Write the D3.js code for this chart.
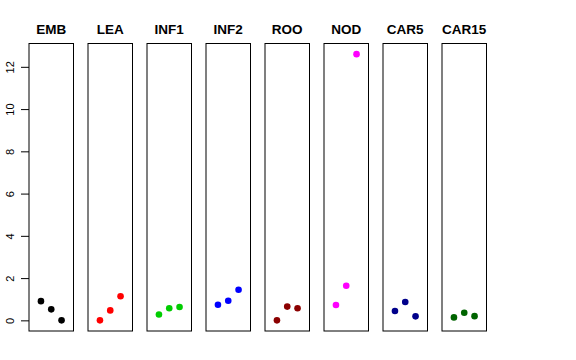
<!DOCTYPE html>
<html><head><meta charset="utf-8">
<script src="https://cdn.jsdelivr.net/npm/d3@7"></script>
<style>body{margin:0;background:#fff}svg{display:block}</style>
</head><body>
<svg id="chart" width="576" height="360"></svg>
<script>
const categories = ["EMB","LEA","INF1","INF2","ROO","NOD","CAR5","CAR15"];
const colors = ["#000000","#FF0000","#00CD00","#0000FF","#8B0000","#FF00FF","#00008B","#006400"];
const valuesEMB = [0.91, 0.52, 0.0];
const valuesLEA = [0.0, 0.47, 1.14];
const valuesINF1 = [0.28, 0.57, 0.63];
const valuesINF2 = [0.74, 0.93, 1.45];
const valuesROO = [0.0, 0.65, 0.57];
const valuesNOD = [0.73, 1.64, 12.6];
const valuesCAR5 = [0.44, 0.87, 0.19];
const valuesCAR15 = [0.14, 0.36, 0.20];
const series = [valuesEMB, valuesLEA, valuesINF1, valuesINF2, valuesROO, valuesNOD, valuesCAR5, valuesCAR15];
const yTicks = [0, 2, 4, 6, 8, 10, 12];

const svg = d3.select("#chart");
const plotLeft = 29, pitch = 59, pw = 44.5, plotTop = 43.5, plotBottom = 331;
const ymin = 0, ymax = 12.6, ext = (ymax - ymin) * 0.04;
const y = d3.scaleLinear().domain([ymin - ext, ymax + ext]).range([plotBottom, plotTop]);
const panelX = d3.scaleLinear().domain([0, 1]).range([plotLeft, plotLeft + pitch]);

// y axis
const yAxis = d3.axisLeft(y).tickValues(yTicks).tickSize(8).tickFormat(d3.format("d"));
const ga = svg.append("g").attr("transform", `translate(${plotLeft},0)`).call(yAxis);
ga.select(".domain").remove();
ga.selectAll(".tick line").attr("stroke", "#000");
ga.selectAll(".tick text")
  .attr("transform", "translate(-15,0) rotate(-90)")
  .attr("x", 0).attr("y", 0).attr("dy", 0)
  .attr("text-anchor", "middle")
  .style("font-family", "'Liberation Sans', Arial, sans-serif")
  .style("font-size", "11px")
  .attr("fill", "#000");

categories.forEach((cat, i) => {
  const x0 = panelX(i);
  const x = d3.scaleLinear().domain([-0.16, 4.16]).range([x0, x0 + pw]);
  const g = svg.append("g");
  g.append("rect").attr("x", x0).attr("y", plotTop).attr("width", pw).attr("height", plotBottom - plotTop)
    .attr("fill", "none").attr("stroke", "#000").attr("stroke-width", 1);
  g.append("text").attr("x", x0 + pw / 2).attr("y", 34)
    .attr("text-anchor", "middle")
    .style("font-family", "'Liberation Sans', Arial, sans-serif")
    .style("font-weight", "bold").style("font-size", "13.5px")
    .text(cat);
  g.selectAll("circle").data(series[i]).join("circle")
    .attr("cx", (d, j) => x(j + 1)).attr("cy", d => y(d)).attr("r", 3.3)
    .attr("fill", colors[i]);
});
</script>
</body></html>
